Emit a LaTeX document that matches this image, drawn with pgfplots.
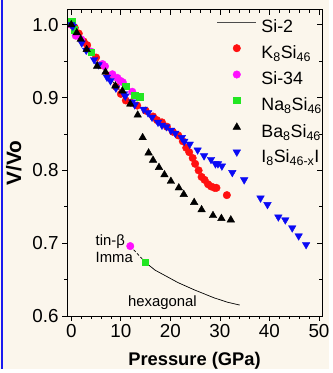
\documentclass[border=0pt]{standalone}
\usepackage{pgfplots}
\pgfplotsset{compat=1.18}
\usepackage{fontspec}
\setmainfont{Liberation Sans}
\definecolor{bg}{HTML}{FBF6EC}
\definecolor{frameblue}{HTML}{1A1AF0}
\definecolor{kred}{HTML}{FF1010}
\definecolor{mag}{HTML}{FF10FF}
\definecolor{grn}{HTML}{22E622}
\definecolor{iblue}{HTML}{0A0AF5}
\newcommand{\fs}{\fontsize{19}{19}\selectfont}
\newcommand{\lfs}{\fontsize{18}{18}\selectfont}
\begin{document}
\begin{tikzpicture}[x=1pt,y=1pt]
\fill[bg] (-67.7,-54) rectangle (264.3,319);
\fill[frameblue] (-66.7,-54) rectangle (-65,319);
\pgfplotsset{
  common/.style={at={(0,0)}, anchor=south west, scale only axis,
    width=257.3pt, height=309pt,
    xmin=-0.86, xmax=50.6, ymin=0.6, ymax=1.0204,
    xtick={0,10,20,30,40,50}, minor x tick num=4,
    ytick={0.6,0.7,0.8,0.9,1.0}, minor y tick num=1,
    major tick length=5pt, minor tick length=3pt,
    axis line style={line width=0.9pt}, every tick/.style={black, line width=0.8pt},
    /pgf/number format/assume math mode=true,
  }
}
\begin{axis}[common,
  tick align=outside, xtick pos=left, ytick pos=left,
  ticklabel style={font=\fs},
  yticklabel style={/pgf/number format/.cd, fixed, fixed zerofill, precision=1},
  xlabel={\textbf{Pressure (GPa)}}, ylabel={\textbf{V/Vo}},
  every axis x label/.style={at={(axis description cs:0.5,-0.163)}, anchor=base, font=\fontsize{18.5}{18.5}\selectfont},
  every axis y label/.style={at={(axis description cs:-0.18,0.5)}, anchor=base, rotate=90, font=\fontsize{21}{21}\selectfont},
  legend style={at={(axis cs:29.4,1.0075)}, anchor=north west, draw=none, fill=none, inner sep=0pt,
     font=\lfs, row sep=7.7pt, column sep=5pt,
     nodes={text height=13pt, text depth=4.5pt, inner sep=0pt}},
  legend cell align=left,
  legend image code/.code={\draw[mark repeat=2,mark phase=2,#1] plot coordinates {(0pt,6.3pt) (19.5pt,6.3pt) (39pt,6.3pt)};},
]
% Si-2 line (diamond, low pressure)
\addplot[black, line width=0.6pt, forget plot] coordinates {(0,1.0) (2,0.979) (4,0.960) (6,0.943) (8,0.925) (10,0.908) (11.5,0.897)};
% dashed tin-beta / Imma
\addplot[black, line width=0.7pt, dashed, dash pattern=on 3pt off 2pt, forget plot] coordinates {(11.9,0.696) (14.9,0.674)};
% hexagonal
\addplot[black, line width=0.7pt, forget plot] coordinates {(14.9,0.674) (16.9,0.663) (18.8,0.656) (21.5,0.646) (24.8,0.636) (28.8,0.625) (31.5,0.619) (34.0,0.615)};
% K8Si46
\addplot[only marks, mark=*, mark size=3.8pt, kred, forget plot] coordinates {
(0,1.0) (0.7,0.996) (1.5,0.988) (2.5,0.977) (3.2,0.972) (5,0.955) (6,0.945) (7.5,0.930) (9,0.915) (10,0.905) (11,0.896) (12,0.893) (13.3,0.889) (15,0.882) (16.5,0.874) (17.3,0.869) (18.3,0.866) (19.3,0.860) (20.5,0.853) (21.6,0.848) (22.5,0.840) (23.2,0.831) (23.8,0.825) (24.5,0.817) (25,0.809) (25.7,0.800) (26.3,0.791) (26.9,0.787) (27.6,0.781) (28.2,0.778) (28.9,0.776) (29.3,0.776) (31.4,0.766)};
% Si-34
\addplot[only marks, mark=*, mark size=3.8pt, mag, forget plot] coordinates {
(0,1.0) (0.9,0.985) (2,0.980) (4,0.963) (6.3,0.946) (6.8,0.943) (8.3,0.932) (9.3,0.927) (9.9,0.923) (10.4,0.921) (12.3,0.908) (11.9,0.696)};
% Na8Si46
\addplot[only marks, mark=square*, mark size=3.2pt, grn, forget plot] coordinates {
(0.1,1.005) (0.6,0.993) (4,0.962) (11,0.916) (12.8,0.903) (13.8,0.901) (14.9,0.674)};
% I8Si46-xIx
\addplot[only marks, mark=triangle*, mark size=4.4pt, mark options={rotate=180}, iblue, forget plot] coordinates {
(0,1.0) (0.3,0.998) (2.1,0.975) (3,0.965) (4.6,0.952) (5.5,0.945) (7.2,0.928) (7.9,0.923) (9,0.913) (10.6,0.905) (10.9,0.902) (12.3,0.894) (12.8,0.890) (14.6,0.884) (15.5,0.879) (16.3,0.873) (17.5,0.866) (18.3,0.862) (19.2,0.860) (20.1,0.855) (21,0.851) (22.3,0.845) (22.8,0.840) (23.9,0.836) (25.5,0.828) (26.8,0.820) (28.2,0.815) (29.1,0.809) (29.6,0.809) (30.4,0.806) (32.5,0.797) (34.9,0.787) (38.2,0.762) (39.6,0.753) (41.8,0.736) (43.2,0.732) (44.6,0.721) (45.9,0.710) (47.4,0.698)};
% Ba8Si46
\addplot[only marks, mark=triangle*, mark size=4.4pt, black, forget plot] coordinates {
(0,1.0) (1.1,0.989) (1.9,0.980) (3.1,0.966) (5.2,0.943) (6.9,0.935) (8.9,0.916) (10.3,0.909) (11.9,0.891) (13.4,0.876) (14.4,0.845) (15.6,0.824) (16.5,0.814) (17.7,0.804) (18.8,0.794) (20.1,0.785) (21.7,0.776) (22.7,0.767) (24.8,0.756) (26.3,0.746) (28.6,0.738) (30.3,0.734) (32.2,0.732)};
% legend
\addlegendimage{black!70, line width=0.7pt}
\addlegendentry{Si-2}
\addlegendimage{only marks, mark=*, mark size=3.8pt, kred}
\addlegendentry{K\textsubscript{8}Si\textsubscript{46}}
\addlegendimage{only marks, mark=*, mark size=3.8pt, mag}
\addlegendentry{Si-34}
\addlegendimage{only marks, mark=square*, mark size=3.2pt, grn}
\addlegendentry{Na\textsubscript{8}Si\textsubscript{46}}
\addlegendimage{only marks, mark=triangle*, mark size=4.4pt, black}
\addlegendentry{Ba\textsubscript{8}Si\textsubscript{46}}
\addlegendimage{only marks, mark=triangle*, mark size=4.4pt, mark options={rotate=180}, iblue}
\addlegendentry{I\textsubscript{8}Si\textsubscript{46-x}I}
% labels
\node[anchor=west, font=\fontsize{15}{15}\selectfont] at (axis cs:4.2,0.702) {tin-β};
\node[anchor=west, font=\fontsize{15}{15}\selectfont] at (axis cs:4.2,0.681) {Imma};
\node[anchor=center, font=\fontsize{15}{15}\selectfont] at (axis cs:18.4,0.619) {hexagonal};
\end{axis}
\begin{axis}[common, tick align=inside, xtick pos=right, ytick pos=right,
  xticklabels={}, yticklabels={}]
\end{axis}
\end{tikzpicture}
\end{document}
